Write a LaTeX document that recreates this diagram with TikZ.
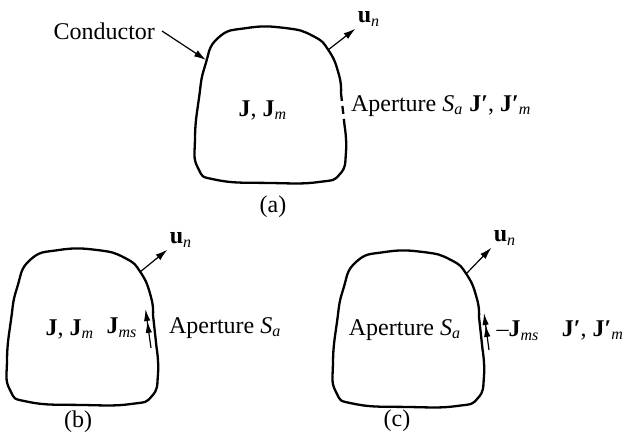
\documentclass[tikz,border=0pt]{standalone}
\usepackage{fontspec}
\setmainfont{Liberation Serif}
\usetikzlibrary{arrows.meta}

\begin{document}
\begin{tikzpicture}[x=0.5pt, y=-0.5pt, font=\fontsize{12}{14}\selectfont,
  outline/.style = {line width=1.15pt, line join=round},
  aperture/.style = {},
  arr/.style = {line width=0.6pt, -{Latex[length=6pt,width=3.6pt]}},
  dblarr/.style = {line width=0.6pt, -{Latex[length=6pt,width=3.2pt]Latex[length=6pt,width=3.2pt]}},
  lbl/.style = {inner sep=1pt},
  conductor/.pic = {
    \draw[outline] plot[smooth, tension=0.85] coordinates {(149.5,97) (151,124) (145,146) (124,154) (76,155) (22,152) (3,140) (0,110) (4,70) (10,38) (23,10) (52,0) (90,0) (118,8) (134,23) (144,47) (146,65)};
    \draw[outline, aperture] (146,65) -- (149.5,97);
    \coordinate (-un) at (133,22);
    \coordinate (-hit) at (11,32);
  } ]

\useasboundingbox (0,0) rectangle (627,443);

% (a) - conductor with aperture
\pic[aperture/.style={dash pattern=on 4pt off 2.5pt}] (a) at (195,28) {conductor};
\node[anchor=east] (cond) at (162,31) {Conductor};
\node[lbl] (una) at (369,19) {\textbf{u}\textsubscript{\itshape n}};
\node (Ja) at (263,110) {\textbf{J}, \textbf{J}\textsubscript{\itshape m}};
\node[anchor=west] (apa) at (344,106) {Aperture \textit{S}\textsubscript{\itshape a} \textbf{J′}, \textbf{J′}\textsubscript{\itshape m}};
\node (capa) at (273,207) {(a)};

%--- Conductor -> wall
\draw[arr] (cond.east) -- (a-hit);
%--- normal u_n
\draw[arr] (a-un) -- (una.south west);

% (b) - aperture closed, J_ms on the inside
\pic (b) at (7,250) {conductor};
\node[lbl] (unb) at (181,240) {\textbf{u}\textsubscript{\itshape n}};
\node (Jb) at (70,329) {\textbf{J}, \textbf{J}\textsubscript{\itshape m}};
\node (Jmsb) at (122,328) {\textbf{J}\textsubscript{\itshape ms}};
\node[anchor=west] (apb) at (162,328) {Aperture \textit{S}\textsubscript{\itshape a}};
\node (capb) at (78,422) {(b)};
\coordinate (b-s0) at (151,348);
\coordinate (b-s1) at (145.5,309);

\draw[arr] (b-un) -- (unb.south west);
\draw[dblarr] (b-s0) -- (b-s1);

% (c) - aperture closed, -J_ms on the outside
\pic (c) at (333,252) {conductor};
\node[lbl] (unc) at (505,238) {\textbf{u}\textsubscript{\itshape n}};
\node (apc) at (405,330) {Aperture \textit{S}\textsubscript{\itshape a}};
\node (Jmsc) at (518,331) {--\textbf{J}\textsubscript{\itshape ms}};
\node (Jc) at (593,330) {\textbf{J′}, \textbf{J′}\textsubscript{\itshape m}};
\node (capc) at (397,421) {(c)};
\coordinate (c-s0) at (489,350);
\coordinate (c-s1) at (484,313);

\draw[arr] (c-un) -- (unc.south west);
\draw[dblarr] (c-s0) -- (c-s1);

\end{tikzpicture}
\end{document}
